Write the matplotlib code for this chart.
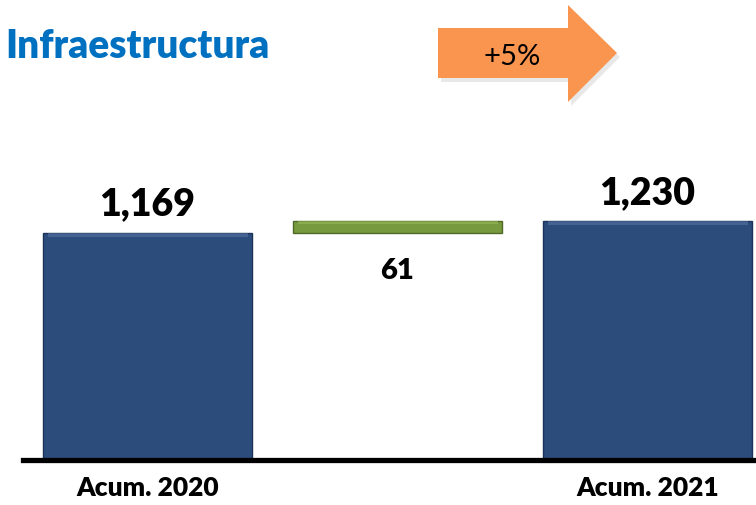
import numpy as np
import matplotlib
matplotlib.use("Agg")
import matplotlib.pyplot as plt
from matplotlib.patches import Polygon

# Data
categories = ["Acum. 2020", "", "Acum. 2021"]
values = [1169, 61, 1230]
bottoms = [0, 1169, 0]
value_labels = ["1,169", "61", "1,230"]
title = "Infraestructura"
growth_label = "+5%"

W, H = 756, 505
plt.rcParams['font.family'] = ['Lato', 'DejaVu Sans']

fig = plt.figure(figsize=(W / 100, H / 100), dpi=100)

# axes placed so that bars land where they sit in the reference
ax = fig.add_axes([23 / W, (H - 459.5) / H, 1 - 23 / W, 0.6915])

x = np.arange(len(categories))
bar_colors = ['#2C4C7C', '#789A3E', '#2C4C7C']
edge_colors = ['#1B3358', '#4F6A28', '#1B3358']
top_colors = ['#5877A6', '#9DBE5C', '#5877A6']

ax.bar(x, values, bottom=bottoms, width=0.833, color=bar_colors,
       edgecolor=edge_colors, linewidth=1.0, zorder=2)

# light bevel along the top of each bar
tops = np.array(bottoms) + np.array(values)
bevel = np.array([22, 18, 22])
ax.bar(x, bevel, bottom=tops - bevel, width=0.80, color=top_colors,
       alpha=0.55, linewidth=0, zorder=3)

ax.set_xlim(-0.498, 2.434)
ax.set_ylim(0, 1800)

# value labels
ax.annotate(value_labels[0], (x[0], tops[0]), xytext=(0, 8), textcoords='offset points',
            ha='center', va='bottom', fontsize=27, fontweight='heavy', color='black')
ax.annotate(value_labels[2], (x[2], tops[2]), xytext=(0, 8), textcoords='offset points',
            ha='center', va='bottom', fontsize=27, fontweight='heavy', color='black')
ax.annotate(value_labels[1], (x[1], bottoms[1]), xytext=(0, -18), textcoords='offset points',
            ha='center', va='top', fontsize=21, fontweight='heavy', color='black')

ax.set_xticks(x)
ax.set_xticklabels(categories, fontsize=19, fontweight='heavy')
ax.tick_params(axis='x', length=0, pad=12)
ax.set_yticks([])
for s in ['left', 'right', 'top']:
    ax.spines[s].set_visible(False)
ax.spines['bottom'].set_linewidth(3.8)
ax.spines['bottom'].set_color('black')
ax.spines['bottom'].set_zorder(4)

# title
fig.text(5 / W, (H - 46) / H, title, fontsize=28, fontweight='heavy',
         color='#0070C0', ha='left', va='center')

# growth arrow
arrow_px = [(438, 28), (568, 28), (568, 5), (617, 53), (568, 102), (568, 78), (438, 78)]
def to_fig(pts, dx=0, dy=0):
    return [((px + dx) / W, (H - py - dy) / H) for px, py in pts]

fig.patches.append(Polygon(to_fig(arrow_px, 3, 4), closed=True, transform=fig.transFigure,
                           facecolor='#909090', alpha=0.2, edgecolor='none'))
fig.patches.append(Polygon(to_fig(arrow_px), closed=True, transform=fig.transFigure,
                           facecolor='#FA9550', edgecolor='none'))
fig.text(512 / W, (H - 57) / H, growth_label, fontsize=21, color='black',
         ha='center', va='center')

fig.savefig("out.png", dpi=100)
